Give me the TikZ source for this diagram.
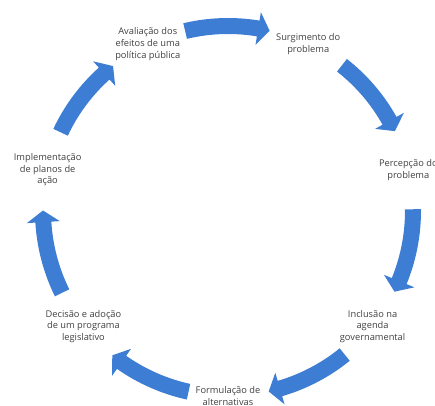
\documentclass[tikz,border=0pt]{standalone}
\usepackage{fontspec}
\setmainfont{Open Sans}
\definecolor{cycleblue}{RGB}{61,126,212}
\definecolor{labelgray}{RGB}{64,64,64}

\begin{document}
\begin{tikzpicture}[x=0.025cm, y=0.025cm,
	etapa/.style={align=center, text=labelgray, inner sep=0pt,
		font=\fontsize{6.6}{8.4}\selectfont}]
	\useasboundingbox (-228,-195) rectangle (207,211);
	\def \rr{185}
	\pgfmathsetmacro\ro{\rr+8}
	\pgfmathsetmacro\ri{\rr-8}
	\pgfmathsetmacro\rh{\rr+16.5}
	\pgfmathsetmacro\rl{\rr-16.5}
	% seven curved arrows round the cycle
	\foreach \k in {0,...,6}{
		\pgfmathsetmacro\aa{103.4-51.43*\k}
		\pgfmathsetmacro\tt{\aa-26.4}
		\pgfmathsetmacro\bb{\tt+3.6}
		\fill[cycleblue] (\aa:\ro) arc[start angle=\aa, end angle=\bb, radius=\ro]
			-- (\bb:\rh) -- (\tt:\rr) -- (\bb:\rl) -- (\bb:\ri)
			arc[start angle=\bb, end angle=\aa, radius=\ri] -- cycle;
	}
	\node[etapa] (surg) at (64.3:\rr) {Surgimento do\\problema};
	\node[etapa] (perc) at (12.9:\rr) {Percepção do\\problema};
	\node[etapa] (incl) at (-38.6:\rr) {Inclusão na\\agenda\\governamental};
	\node[etapa] (form) at (-90:\rr) {Formulação de\\alternativas};
	\node[etapa] (deci) at (-141.4:\rr) {Decisão e adoção\\de um programa\\legislativo};
	\node[etapa] (impl) at (167.1:\rr) {Implementação\\de planos de\\ação};
	\node[etapa] (aval) at (115.7:\rr) {Avaliação dos\\efeitos de uma\\política pública};
\end{tikzpicture}
\end{document}
